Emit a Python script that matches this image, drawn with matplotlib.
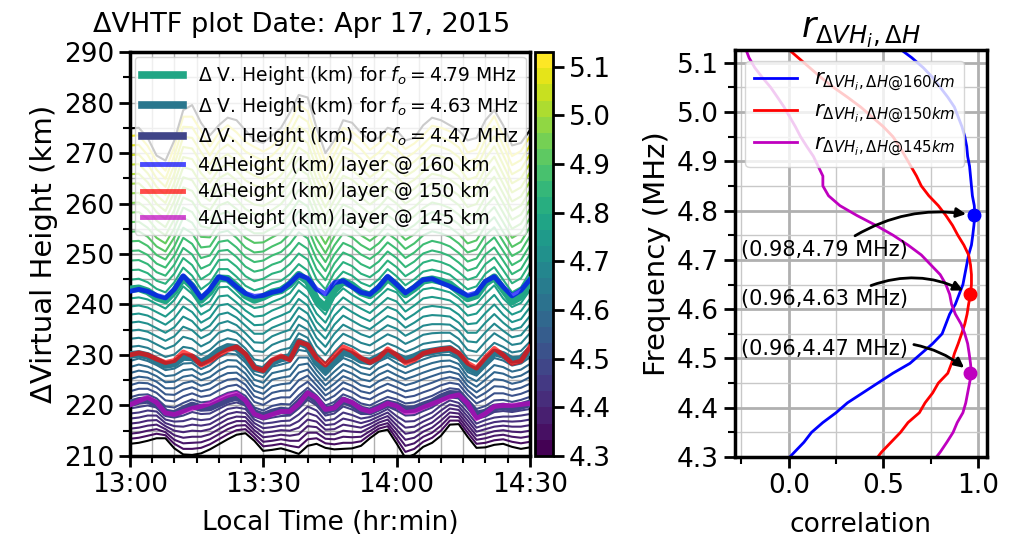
"""Delta-VHTF traces for one afternoon plus the height/frequency correlation panel."""
import numpy as np
import matplotlib

matplotlib.use("Agg")
import matplotlib.pyplot as plt  # noqa: E402
from matplotlib.colors import Normalize  # noqa: E402
from matplotlib.ticker import MultipleLocator  # noqa: E402

# minutes after 13:00 local time (2 min cadence)
times_min = np.arange(0, 91, 2)
time_labels = ["13:00", "13:30", "14:00", "14:30"]
# one virtual-height trace per sounding frequency (MHz)
freqs_mhz = np.round(np.arange(4.31, 5.14, 0.02), 2)

heights_km = np.array([
    [212.4, 212.6, 213.0, 213.5, 213.5, 211.5, 210.3, 210.2, 210.5, 211.3, 212.3, 213.3, 214.2, 214.5, 213.0, 211.0, 211.2, 211.5, 211.0, 210.4, 212.0, 212.4, 211.6, 211.3, 211.4, 211.5, 212.0, 213.5, 214.8, 215.2, 212.5, 209.6, 210.3, 211.8, 212.6, 214.0, 216.2, 216.3, 213.8, 211.6, 211.7, 212.2, 212.4, 211.8, 211.4, 211.7],
    [213.4, 213.6, 214.0, 214.4, 214.1, 212.4, 211.4, 211.4, 211.6, 212.3, 213.3, 214.3, 215.1, 215.3, 213.7, 211.9, 212.1, 212.4, 212.0, 211.7, 213.3, 213.5, 212.5, 212.3, 212.6, 212.6, 212.9, 214.2, 215.4, 215.9, 213.4, 210.8, 211.4, 212.8, 213.6, 215.0, 217.0, 217.0, 214.6, 212.4, 212.6, 213.1, 213.3, 212.8, 212.5, 212.8],
    [214.4, 214.6, 215.0, 215.3, 214.7, 213.2, 212.5, 212.6, 212.7, 213.3, 214.3, 215.3, 216.0, 216.1, 214.4, 212.8, 213.0, 213.3, 213.0, 213.0, 214.6, 214.6, 213.4, 213.3, 213.8, 213.7, 213.8, 214.9, 216.0, 216.5, 214.3, 212.0, 212.5, 213.8, 214.6, 216.0, 217.8, 217.7, 215.4, 213.2, 213.5, 214.0, 214.2, 213.8, 213.6, 213.9],
    [215.4, 215.6, 216.0, 216.2, 215.3, 214.1, 213.6, 213.8, 213.8, 214.3, 215.3, 216.3, 216.9, 216.9, 215.1, 213.7, 213.9, 214.2, 214.0, 214.3, 215.9, 215.7, 214.3, 214.3, 215.0, 214.8, 214.7, 215.6, 216.6, 217.2, 215.2, 213.2, 213.6, 214.8, 215.6, 217.0, 218.6, 218.4, 216.2, 214.0, 214.4, 214.9, 215.1, 214.8, 214.7, 215.0],
    [216.4, 216.6, 217.0, 217.1, 215.9, 215.0, 214.7, 215.0, 214.9, 215.3, 216.3, 217.3, 217.8, 217.7, 215.8, 214.6, 214.8, 215.1, 215.0, 215.6, 217.2, 216.8, 215.2, 215.3, 216.2, 215.9, 215.6, 216.3, 217.2, 217.9, 216.1, 214.4, 214.7, 215.8, 216.6, 218.0, 219.4, 219.1, 217.0, 214.8, 215.3, 215.8, 216.0, 215.8, 215.8, 216.1],
    [217.4, 217.6, 218.0, 218.0, 216.5, 215.9, 215.8, 216.2, 216.0, 216.3, 217.3, 218.3, 218.7, 218.5, 216.5, 215.5, 215.7, 216.0, 216.0, 216.9, 218.5, 217.9, 216.1, 216.3, 217.4, 217.0, 216.5, 217.0, 217.8, 218.6, 217.0, 215.6, 215.8, 216.8, 217.6, 219.0, 220.2, 219.8, 217.8, 215.6, 216.2, 216.7, 216.9, 216.8, 216.9, 217.2],
    [218.4, 218.6, 219.0, 218.8, 217.2, 216.8, 216.9, 217.4, 217.1, 217.3, 218.3, 219.3, 219.6, 219.3, 217.2, 216.4, 216.6, 216.9, 217.0, 218.2, 219.8, 219.0, 217.0, 217.3, 218.6, 218.1, 217.4, 217.7, 218.4, 219.3, 217.9, 216.8, 216.9, 217.8, 218.6, 220.0, 221.0, 220.5, 218.6, 216.4, 217.1, 217.6, 217.8, 217.8, 218.0, 218.3],
    [219.4, 219.7, 220.0, 219.6, 217.9, 217.6, 218.0, 218.7, 218.3, 218.4, 219.3, 220.2, 220.6, 220.0, 217.8, 217.2, 217.6, 217.9, 218.0, 219.4, 221.1, 220.0, 218.0, 218.4, 219.8, 219.2, 218.3, 218.3, 219.0, 219.8, 219.0, 218.0, 218.1, 218.9, 219.6, 220.8, 221.6, 221.4, 219.5, 217.3, 217.8, 218.7, 218.9, 218.7, 219.0, 219.3],
    [220.4, 220.9, 221.1, 220.3, 218.6, 218.3, 219.2, 220.0, 219.5, 219.6, 220.4, 221.2, 221.7, 220.8, 218.5, 217.9, 218.6, 219.0, 218.8, 220.5, 222.3, 221.0, 219.0, 219.5, 221.0, 220.3, 219.2, 218.8, 219.6, 220.4, 220.0, 219.2, 219.3, 220.0, 220.6, 221.6, 222.3, 222.2, 220.3, 218.2, 218.6, 219.6, 219.8, 219.5, 219.9, 220.4],
    [221.6, 222.1, 222.2, 221.4, 219.8, 219.6, 220.5, 221.2, 220.6, 220.8, 221.7, 222.5, 222.9, 221.9, 219.6, 219.0, 219.9, 220.3, 220.2, 222.0, 223.5, 222.0, 220.0, 220.7, 222.2, 221.5, 220.4, 220.0, 220.9, 221.7, 221.2, 220.4, 220.6, 221.3, 221.9, 222.8, 223.4, 223.2, 221.2, 219.3, 219.9, 221.0, 221.1, 220.7, 221.1, 221.7],
    [222.8, 223.3, 223.3, 222.5, 221.0, 220.8, 221.8, 222.4, 221.7, 222.0, 223.0, 223.8, 224.1, 223.0, 220.7, 220.1, 221.2, 221.6, 221.6, 223.5, 224.7, 223.0, 221.0, 221.9, 223.4, 222.7, 221.6, 221.2, 222.2, 223.0, 222.4, 221.6, 221.9, 222.6, 223.2, 224.0, 224.5, 224.2, 222.1, 220.4, 221.2, 222.4, 222.4, 221.9, 222.3, 223.0],
    [224.0, 224.5, 224.4, 223.6, 222.2, 222.1, 223.1, 223.6, 222.8, 223.2, 224.3, 225.1, 225.3, 224.1, 221.8, 221.2, 222.5, 222.9, 223.0, 225.0, 225.9, 224.0, 222.0, 223.1, 224.6, 223.9, 222.8, 222.4, 223.5, 224.3, 223.6, 222.8, 223.2, 223.9, 224.5, 225.2, 225.6, 225.2, 223.0, 221.5, 222.5, 223.8, 223.7, 223.1, 223.5, 224.3],
    [225.2, 225.7, 225.5, 224.7, 223.4, 223.4, 224.4, 224.8, 223.9, 224.4, 225.6, 226.4, 226.5, 225.2, 222.9, 222.3, 223.8, 224.2, 224.4, 226.5, 227.1, 225.0, 223.0, 224.3, 225.8, 225.1, 224.0, 223.6, 224.8, 225.6, 224.8, 224.0, 224.5, 225.2, 225.8, 226.4, 226.7, 226.2, 223.9, 222.6, 223.8, 225.2, 225.0, 224.3, 224.7, 225.6],
    [226.4, 226.9, 226.6, 225.8, 224.6, 224.7, 225.7, 226.0, 225.0, 225.6, 226.9, 227.7, 227.7, 226.3, 224.0, 223.4, 225.1, 225.5, 225.8, 228.0, 228.3, 226.0, 224.0, 225.5, 227.0, 226.3, 225.2, 224.8, 226.1, 226.9, 226.0, 225.2, 225.8, 226.5, 227.1, 227.6, 227.8, 227.2, 224.8, 223.7, 225.1, 226.6, 226.3, 225.5, 225.9, 226.9],
    [227.6, 228.1, 227.7, 226.9, 225.8, 226.0, 227.0, 227.2, 226.1, 226.8, 228.2, 229.0, 228.9, 227.4, 225.1, 224.5, 226.4, 226.8, 227.2, 229.5, 229.5, 227.0, 225.0, 226.7, 228.2, 227.5, 226.4, 226.0, 227.4, 228.2, 227.2, 226.4, 227.1, 227.8, 228.4, 228.8, 228.9, 228.2, 225.7, 224.8, 226.4, 228.0, 227.6, 226.7, 227.1, 228.2],
    [228.8, 229.3, 228.8, 228.0, 227.0, 227.3, 228.3, 228.4, 227.2, 228.0, 229.5, 230.3, 230.1, 228.5, 226.2, 225.6, 227.7, 228.1, 228.6, 231.0, 230.7, 228.0, 226.0, 227.9, 229.4, 228.7, 227.6, 227.2, 228.7, 229.5, 228.4, 227.6, 228.4, 229.1, 229.7, 230.0, 230.0, 229.2, 226.6, 225.9, 227.7, 229.4, 228.9, 227.9, 228.3, 229.5],
    [230.0, 230.2, 229.8, 228.9, 228.0, 228.3, 229.6, 229.5, 228.5, 229.4, 230.8, 231.6, 231.4, 229.8, 227.4, 227.0, 228.6, 229.3, 229.6, 232.6, 231.8, 228.6, 226.8, 228.8, 230.6, 230.0, 229.0, 228.7, 229.6, 230.5, 229.8, 229.0, 229.6, 230.4, 230.7, 231.0, 231.2, 230.0, 227.6, 226.8, 228.8, 230.5, 230.0, 229.0, 229.2, 230.9],
    [231.6, 231.8, 231.4, 230.5, 229.6, 230.1, 231.6, 231.3, 230.1, 231.0, 232.6, 233.3, 232.9, 231.3, 229.1, 228.8, 230.3, 231.0, 231.4, 234.3, 233.4, 230.2, 228.4, 230.6, 232.4, 231.7, 230.7, 230.3, 231.3, 232.3, 231.6, 230.6, 231.3, 232.2, 232.5, 232.7, 232.8, 231.6, 229.3, 228.7, 230.7, 232.4, 231.6, 230.5, 230.8, 232.6],
    [233.2, 233.4, 233.0, 232.1, 231.2, 231.9, 233.6, 233.1, 231.7, 232.6, 234.4, 235.0, 234.4, 232.8, 230.8, 230.6, 232.0, 232.7, 233.2, 236.0, 235.0, 231.8, 230.0, 232.4, 234.2, 233.4, 232.4, 231.9, 233.0, 234.1, 233.4, 232.2, 233.0, 234.0, 234.3, 234.4, 234.4, 233.2, 231.0, 230.6, 232.6, 234.3, 233.2, 232.0, 232.3, 234.3],
    [234.8, 235.0, 234.6, 233.7, 232.8, 233.7, 235.6, 234.9, 233.3, 234.2, 236.2, 236.7, 235.9, 234.3, 232.5, 232.4, 233.7, 234.4, 235.0, 237.7, 236.6, 233.4, 231.6, 234.2, 236.0, 235.1, 234.1, 233.5, 234.7, 235.9, 235.2, 233.8, 234.7, 235.8, 236.1, 236.1, 236.0, 234.8, 232.7, 232.5, 234.5, 236.2, 234.8, 233.5, 233.9, 236.0],
    [236.4, 236.6, 236.2, 235.3, 234.4, 235.5, 237.6, 236.7, 234.8, 235.8, 238.0, 238.4, 237.4, 235.8, 234.2, 234.2, 235.4, 236.1, 236.8, 239.4, 238.2, 235.0, 233.2, 236.0, 237.8, 236.8, 235.8, 235.1, 236.4, 237.7, 237.0, 235.4, 236.4, 237.6, 237.9, 237.8, 237.6, 236.4, 234.4, 234.4, 236.4, 238.1, 236.4, 235.0, 235.5, 237.7],
    [238.0, 238.2, 237.8, 236.9, 236.0, 237.3, 239.6, 238.5, 236.4, 237.4, 239.8, 240.1, 238.9, 237.3, 235.9, 236.0, 237.1, 237.8, 238.6, 241.1, 239.8, 236.6, 234.8, 237.8, 239.6, 238.5, 237.5, 236.7, 238.1, 239.5, 238.8, 237.0, 238.1, 239.4, 239.7, 239.5, 239.2, 238.0, 236.1, 236.3, 238.3, 240.0, 238.0, 236.5, 237.1, 239.4],
    [239.6, 239.8, 239.4, 238.5, 237.6, 239.1, 241.6, 240.3, 238.0, 239.0, 241.6, 241.8, 240.4, 238.8, 237.6, 237.8, 238.8, 239.5, 240.4, 242.8, 241.4, 238.2, 236.4, 239.6, 241.4, 240.2, 239.2, 238.3, 239.8, 241.3, 240.6, 238.6, 239.8, 241.2, 241.5, 241.2, 240.8, 239.6, 237.8, 238.2, 240.2, 241.9, 239.6, 238.0, 238.7, 241.1],
    [241.2, 241.4, 241.0, 240.1, 239.2, 240.9, 243.6, 242.1, 239.6, 240.6, 243.4, 243.5, 241.9, 240.3, 239.3, 239.6, 240.5, 241.2, 242.2, 244.5, 243.0, 239.8, 238.0, 241.4, 243.2, 241.9, 240.9, 239.9, 241.5, 243.1, 242.4, 240.2, 241.5, 243.0, 243.3, 242.9, 242.4, 241.2, 239.5, 240.1, 242.1, 243.8, 241.2, 239.5, 240.3, 242.8],
    [243.0, 243.2, 242.6, 241.4, 240.8, 242.6, 245.3, 243.6, 240.9, 242.5, 245.2, 245.1, 243.6, 241.8, 240.9, 241.5, 242.4, 242.8, 244.0, 245.9, 244.6, 241.0, 239.4, 242.8, 244.6, 243.8, 242.4, 241.8, 243.2, 245.2, 243.8, 242.0, 243.2, 244.7, 245.0, 244.6, 244.0, 242.6, 241.2, 241.8, 244.2, 245.4, 243.0, 240.6, 241.6, 244.6],
    [244.9, 245.1, 244.4, 243.1, 242.4, 244.4, 247.3, 245.7, 243.0, 244.3, 247.0, 247.0, 245.5, 243.7, 242.8, 243.3, 244.2, 244.7, 246.0, 248.0, 246.7, 243.0, 241.2, 244.6, 246.5, 245.7, 244.3, 243.6, 245.0, 247.0, 245.6, 243.8, 245.0, 246.5, 246.9, 246.5, 245.9, 244.5, 243.0, 243.6, 246.1, 247.4, 244.9, 242.4, 243.4, 246.4],
    [246.8, 246.9, 246.2, 244.7, 244.1, 246.1, 249.2, 247.8, 245.0, 246.1, 248.8, 248.9, 247.5, 245.6, 244.6, 245.1, 246.1, 246.6, 248.0, 250.1, 248.9, 245.0, 243.0, 246.3, 248.4, 247.6, 246.1, 245.4, 246.7, 248.7, 247.4, 245.6, 246.7, 248.3, 248.8, 248.4, 247.7, 246.4, 244.9, 245.5, 248.0, 249.3, 246.8, 244.2, 245.2, 248.1],
    [248.7, 248.8, 248.0, 246.4, 245.7, 247.9, 251.2, 249.9, 247.1, 247.9, 250.6, 250.8, 249.4, 247.5, 246.5, 246.9, 247.9, 248.5, 250.0, 252.2, 251.0, 247.0, 244.8, 248.1, 250.3, 249.5, 248.0, 247.2, 248.5, 250.5, 249.2, 247.4, 248.5, 250.1, 250.7, 250.3, 249.6, 248.3, 246.7, 247.3, 249.9, 251.3, 248.7, 246.0, 247.0, 249.9],
    [250.6, 250.7, 249.8, 248.1, 247.3, 249.7, 253.2, 252.0, 249.2, 249.7, 252.4, 252.7, 251.3, 249.4, 248.4, 248.7, 249.7, 250.4, 252.0, 254.3, 253.1, 249.0, 246.6, 249.9, 252.2, 251.4, 249.9, 249.0, 250.3, 252.3, 251.0, 249.2, 250.3, 251.9, 252.6, 252.2, 251.5, 250.2, 248.5, 249.1, 251.8, 253.3, 250.6, 247.8, 248.8, 251.7],
    [252.5, 252.6, 251.6, 249.8, 248.9, 251.5, 255.2, 254.1, 251.3, 251.5, 254.2, 254.6, 253.2, 251.3, 250.3, 250.5, 251.5, 252.3, 254.0, 256.4, 255.2, 251.0, 248.4, 251.7, 254.1, 253.3, 251.8, 250.8, 252.1, 254.1, 252.8, 251.0, 252.1, 253.7, 254.5, 254.1, 253.4, 252.1, 250.3, 250.9, 253.7, 255.3, 252.5, 249.6, 250.6, 253.5],
    [254.4, 254.5, 253.4, 251.5, 250.5, 253.3, 257.2, 256.2, 253.4, 253.3, 256.0, 256.5, 255.1, 253.2, 252.2, 252.3, 253.3, 254.2, 256.0, 258.5, 257.3, 253.0, 250.2, 253.5, 256.0, 255.2, 253.7, 252.6, 253.9, 255.9, 254.6, 252.8, 253.9, 255.5, 256.4, 256.0, 255.3, 254.0, 252.1, 252.7, 255.6, 257.3, 254.4, 251.4, 252.4, 255.3],
    [256.3, 256.4, 255.2, 253.2, 252.1, 255.1, 259.2, 258.3, 255.5, 255.1, 257.8, 258.4, 257.0, 255.1, 254.1, 254.1, 255.1, 256.1, 258.0, 260.6, 259.4, 255.0, 252.0, 255.3, 257.9, 257.1, 255.6, 254.4, 255.7, 257.7, 256.4, 254.6, 255.7, 257.3, 258.3, 257.9, 257.2, 255.9, 253.9, 254.5, 257.5, 259.3, 256.3, 253.2, 254.2, 257.1],
    [258.2, 258.3, 257.0, 254.9, 253.7, 256.9, 261.2, 260.4, 257.6, 256.9, 259.6, 260.3, 258.9, 257.0, 256.0, 255.9, 256.9, 258.0, 260.0, 262.7, 261.5, 257.0, 253.8, 257.1, 259.8, 259.0, 257.5, 256.2, 257.5, 259.5, 258.2, 256.4, 257.5, 259.1, 260.2, 259.8, 259.1, 257.8, 255.7, 256.3, 259.4, 261.3, 258.2, 255.0, 256.0, 258.9],
    [260.1, 260.2, 258.8, 256.6, 255.3, 258.7, 263.2, 262.5, 259.7, 258.7, 261.4, 262.2, 260.8, 258.9, 257.9, 257.7, 258.7, 259.9, 262.0, 264.8, 263.6, 259.0, 255.6, 258.9, 261.7, 260.9, 259.4, 258.0, 259.3, 261.3, 260.0, 258.2, 259.3, 260.9, 262.1, 261.7, 261.0, 259.7, 257.5, 258.1, 261.3, 263.3, 260.1, 256.8, 257.8, 260.7],
    [262.0, 262.1, 260.6, 258.3, 256.9, 260.5, 265.2, 264.6, 261.8, 260.5, 263.2, 264.1, 262.7, 260.8, 259.8, 259.5, 260.5, 261.8, 264.0, 266.9, 265.7, 261.0, 257.4, 260.7, 263.6, 262.8, 261.3, 259.8, 261.1, 263.1, 261.8, 260.0, 261.1, 262.7, 264.0, 263.6, 262.9, 261.6, 259.3, 259.9, 263.2, 265.3, 262.0, 258.6, 259.6, 262.5],
    [263.9, 264.0, 262.4, 259.9, 258.5, 262.3, 267.2, 266.7, 263.9, 262.3, 265.0, 266.0, 264.6, 262.7, 261.7, 261.3, 262.3, 263.7, 266.0, 269.0, 267.8, 263.0, 259.2, 262.5, 265.5, 264.7, 263.2, 261.6, 262.9, 264.9, 263.6, 261.8, 262.9, 264.5, 265.9, 265.5, 264.8, 263.5, 261.1, 261.7, 265.1, 267.3, 263.9, 260.4, 261.4, 264.3],
    [265.8, 265.9, 264.2, 261.6, 260.1, 264.1, 269.2, 268.8, 266.0, 264.1, 266.8, 267.9, 266.5, 264.6, 263.6, 263.1, 264.1, 265.6, 268.0, 271.1, 269.9, 265.0, 261.0, 264.3, 267.4, 266.6, 265.1, 263.4, 264.7, 266.7, 265.4, 263.6, 264.7, 266.3, 267.8, 267.4, 266.7, 265.4, 262.9, 263.5, 267.0, 269.3, 265.8, 262.2, 263.2, 266.1],
    [267.7, 267.8, 266.0, 263.3, 261.7, 265.9, 271.2, 270.9, 268.1, 265.9, 268.6, 269.8, 268.4, 266.5, 265.5, 264.9, 265.9, 267.5, 270.0, 273.2, 272.0, 267.0, 262.8, 266.1, 269.3, 268.5, 267.0, 265.2, 266.5, 268.5, 267.2, 265.4, 266.5, 268.1, 269.7, 269.3, 268.6, 267.3, 264.7, 265.3, 268.9, 271.3, 267.7, 264.0, 265.0, 267.9],
    [269.6, 269.7, 267.8, 265.0, 263.3, 267.7, 273.2, 273.0, 270.2, 267.7, 270.4, 271.7, 270.3, 268.4, 267.4, 266.7, 267.7, 269.4, 272.0, 275.3, 274.1, 269.0, 264.6, 267.9, 271.2, 270.4, 268.9, 267.0, 268.3, 270.3, 269.0, 267.2, 268.3, 269.9, 271.6, 271.2, 270.5, 269.2, 266.5, 267.1, 270.8, 273.3, 269.6, 265.8, 266.8, 269.7],
    [271.5, 271.6, 269.6, 266.7, 264.9, 269.5, 275.2, 275.1, 272.3, 269.5, 272.2, 273.6, 272.2, 270.3, 269.3, 268.5, 269.5, 271.3, 274.0, 277.4, 276.2, 271.0, 266.4, 269.7, 273.1, 272.3, 270.8, 268.8, 270.1, 272.1, 270.8, 269.0, 270.1, 271.7, 273.5, 273.1, 272.4, 271.1, 268.3, 268.9, 272.7, 275.3, 271.5, 267.6, 268.6, 271.5],
    [273.4, 273.5, 271.4, 268.4, 266.5, 271.3, 277.2, 277.2, 274.4, 271.3, 274.0, 275.5, 274.1, 272.2, 271.2, 270.3, 271.3, 273.2, 276.0, 279.5, 278.3, 273.0, 268.2, 271.5, 275.0, 274.2, 272.7, 270.6, 271.9, 273.9, 272.6, 270.8, 271.9, 273.5, 275.4, 275.0, 274.3, 273.0, 270.1, 270.7, 274.6, 277.3, 273.4, 269.4, 270.4, 273.3],
    [274.9, 275.0, 273.0, 269.5, 268.5, 272.5, 278.5, 279.5, 276.0, 273.5, 275.5, 277.0, 276.5, 274.5, 272.5, 272.0, 273.5, 275.0, 278.0, 281.5, 281.0, 275.0, 270.0, 272.5, 276.5, 276.0, 274.0, 272.5, 273.0, 275.0, 274.5, 272.5, 273.0, 275.5, 277.0, 276.5, 275.5, 274.5, 272.5, 273.0, 276.5, 278.5, 275.5, 271.5, 272.0, 274.5],
])

# 4 x height change of the layer at fixed true heights
layer160_km = [242.6, 243.0, 242.6, 241.8, 241.3, 243.0, 245.7, 243.8, 241.3, 243.0, 245.5, 245.0, 243.5, 242.2, 241.6, 241.8, 242.4, 242.8, 244.2, 245.9, 245.2, 243.0, 242.1, 244.3, 244.7, 243.5, 242.4, 242.0, 243.5, 245.6, 244.0, 242.3, 243.5, 244.9, 245.1, 244.3, 243.6, 242.7, 241.8, 242.3, 244.6, 245.5, 243.5, 241.7, 242.8, 244.9]
layer150_km = [230.0, 230.4, 230.0, 229.2, 228.5, 228.9, 230.6, 229.8, 228.0, 228.8, 230.0, 231.0, 231.6, 230.2, 227.5, 226.9, 229.0, 229.8, 229.0, 232.6, 232.0, 229.4, 228.0, 229.8, 231.6, 230.8, 229.4, 228.5, 229.4, 231.2, 230.0, 228.4, 229.0, 230.3, 230.8, 231.1, 231.3, 230.4, 228.4, 227.4, 229.5, 231.3, 230.0, 228.3, 228.8, 231.6]
layer145_km = [220.1, 220.9, 221.6, 220.6, 218.5, 218.2, 218.8, 219.4, 219.8, 220.4, 221.2, 222.0, 222.4, 221.0, 218.3, 217.6, 218.2, 218.8, 218.8, 220.3, 222.5, 221.5, 219.2, 219.5, 221.2, 220.6, 219.3, 218.8, 219.5, 220.4, 219.9, 218.6, 218.8, 219.6, 220.3, 221.0, 221.7, 222.1, 220.4, 217.4, 218.4, 219.8, 220.0, 220.0, 220.2, 220.4]
layer_heights = [160, 150, 145]
picked_freqs = [4.79, 4.63, 4.47]

# correlation of each trace with the layer height change
corr_freqs = np.round(np.arange(4.29, 5.14, 0.02), 2)
corr160 = [-0.02, 0.03, 0.08, 0.12, 0.18, 0.25, 0.31, 0.39, 0.47, 0.55, 0.64, 0.70, 0.76, 0.81, 0.83, 0.85, 0.88, 0.90, 0.92, 0.93, 0.94, 0.95, 0.965, 0.972, 0.978, 0.983, 0.98, 0.97, 0.965, 0.96, 0.955, 0.945, 0.94, 0.93, 0.915, 0.895, 0.875, 0.84, 0.80, 0.76, 0.71, 0.65, 0.58]
corr150 = [0.45, 0.49, 0.54, 0.59, 0.63, 0.69, 0.72, 0.76, 0.79, 0.84, 0.86, 0.875, 0.895, 0.913, 0.93, 0.942, 0.95, 0.96, 0.965, 0.965, 0.96, 0.95, 0.925, 0.893, 0.865, 0.83, 0.79, 0.74, 0.70, 0.675, 0.645, 0.615, 0.585, 0.55, 0.50, 0.44, 0.38, 0.31, 0.236, 0.17, 0.11, 0.05, -0.01]
corr145 = [0.76, 0.80, 0.835, 0.868, 0.89, 0.92, 0.935, 0.945, 0.955, 0.965, 0.96, 0.953, 0.945, 0.93, 0.91, 0.88, 0.86, 0.85, 0.83, 0.80, 0.75, 0.70, 0.63, 0.551, 0.46, 0.36, 0.27, 0.21, 0.18, 0.18, 0.155, 0.13, 0.095, 0.062, 0.035, 0.005, -0.025, -0.06, -0.096, -0.14, -0.18, -0.21, -0.23]
peak_corr = [0.98, 0.96, 0.96]


def style_axes(a):
    for sp in a.spines.values():
        sp.set_linewidth(2.5)
    a.tick_params(which="major", length=8, width=2, labelsize=19)
    a.tick_params(which="minor", length=5, width=1.5)


def main():
    fig = plt.figure(figsize=(10.15, 5.48), dpi=100)
    ax = fig.add_axes([0.128, 0.168, 0.394, 0.737])
    cax = fig.add_axes([0.527, 0.168, 0.018, 0.737])
    ax2 = fig.add_axes([0.724, 0.166, 0.248, 0.743])

    norm = Normalize(4.30, 5.13)
    cmap = plt.get_cmap("viridis")
    layer_colors = ["b", "r", "m"]

    last = len(freqs_mhz) - 1
    for i, (f, h) in enumerate(zip(freqs_mhz, heights_km)):
        c = "k" if i in (0, last) else cmap(norm(f))
        ax.plot(times_min, h, color=c, lw=1.5, zorder=2)

    for f in picked_freqs:
        i = int(np.argmin(np.abs(freqs_mhz - f)))
        ax.plot(times_min, heights_km[i], color=cmap(norm(f)), lw=5.5, zorder=3,
                label=f"Δ V. Height (km) for $f_o = {f:.2f}$ MHz")
    for h, hk, col in zip([layer160_km, layer150_km, layer145_km], layer_heights, layer_colors):
        ax.plot(times_min, h, color=col, lw=3.5, alpha=0.7, zorder=4,
                label=f"4ΔHeight (km) layer @ {hk} km")

    ax.set_xlim(0, 90)
    ax.set_ylim(210, 290)
    ax.set_xticks(np.arange(0, 91, 30))
    ax.set_xticklabels(time_labels)
    ax.xaxis.set_minor_locator(MultipleLocator(5))
    ax.yaxis.set_major_locator(MultipleLocator(10))
    ax.yaxis.set_minor_locator(MultipleLocator(5))
    ax.grid(which="both", color="#b0b0b0", lw=1)
    ax.set_axisbelow(True)
    ax.set_xlabel("Local Time (hr:min)", fontsize=19, labelpad=9)
    ax.set_ylabel("ΔVirtual Height (km)", fontsize=21)
    ax.legend(loc="upper left", fontsize=13.5, borderaxespad=0.25, handlelength=2.2,
              labelspacing=0.4)
    style_axes(ax)
    fig.text(0.297, 0.955, "ΔVHTF plot Date: Apr 17, 2015", ha="center", va="center",
             fontsize=19.5)

    sm = plt.cm.ScalarMappable(norm=norm, cmap=plt.get_cmap("viridis", 25))
    cb = fig.colorbar(sm, cax=cax, ticks=np.arange(4.3, 5.15, 0.1))
    cb.outline.set_linewidth(2)
    cb.ax.tick_params(length=8, width=2, labelsize=19)

    # correlation panel
    for corr, col, hk in zip([corr160, corr150, corr145], layer_colors, layer_heights):
        ax2.plot(corr, corr_freqs, color=col, lw=2,
                 label=rf"$r_{{\Delta VH_i,\Delta H@{hk}km}}$")
    text_y = [4.72, 4.62, 4.52]
    starts = [(0.64, 1.0), (0.72, 1.0), (1.0, 0.75)]
    rads = [-0.2, -0.25, -0.15]
    for pc, pf, col, ty, rp, rad in zip(peak_corr, picked_freqs, layer_colors, text_y,
                                        starts, rads):
        ax2.plot(pc, pf, "o", color=col, ms=9, zorder=5)
        ax2.annotate(f"({pc:.2f},{pf:.2f} MHz)", xy=(pc, pf), xytext=(-0.25, ty),
                     ha="left", va="center", fontsize=15,
                     arrowprops=dict(arrowstyle="-|>", color="k", lw=2, shrinkB=6,
                                     mutation_scale=14, relpos=rp,
                                     connectionstyle=f"arc3,rad={rad}"))
    ax2.set_xlim(-0.285, 1.045)
    ax2.set_ylim(4.3, 5.126)
    ax2.xaxis.set_major_locator(MultipleLocator(0.5))
    ax2.xaxis.set_minor_locator(MultipleLocator(0.25))
    ax2.yaxis.set_major_locator(MultipleLocator(0.1))
    ax2.yaxis.set_minor_locator(MultipleLocator(0.05))
    ax2.grid(which="major", color="#b0b0b0", lw=2)
    ax2.grid(which="minor", color="#c8c8c8", lw=1)
    ax2.set_axisbelow(True)
    ax2.set_xlabel("correlation", fontsize=19, labelpad=9)
    ax2.set_ylabel("Frequency (MHz)", fontsize=21)
    ax2.set_title(r"$r_{\Delta VH_i,\Delta H}$", fontsize=25, pad=8)
    ax2.legend(loc="upper right", bbox_to_anchor=(0.955, 1.0), fontsize=15.5,
               handlelength=2.0, labelspacing=0.35)
    style_axes(ax2)

    fig.savefig("out.png", dpi=100)


if __name__ == "__main__":
    main()
